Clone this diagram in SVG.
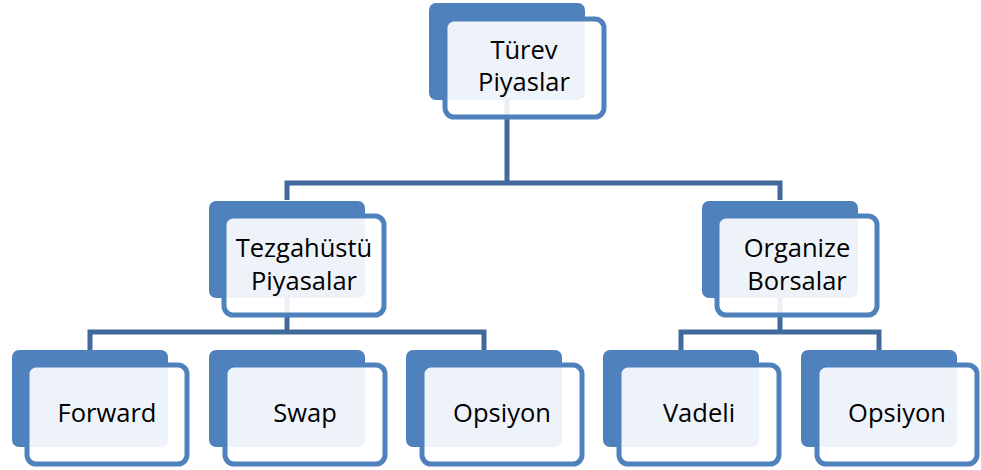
<svg xmlns="http://www.w3.org/2000/svg" width="981" height="470" viewBox="0 0 981 470">
<style>
.back{fill:#4F81BD}
.front{fill:#FFFFFF;fill-opacity:0.9;stroke:#4F81BD;stroke-width:5}
.conn{fill:none;stroke:#40699C;stroke-width:5;stroke-linejoin:miter}
text{font-family:"Open Sans","Liberation Sans",sans-serif;font-size:25.5px;fill:#000;text-anchor:middle}
</style>
<rect width="981" height="470" fill="#FFFFFF"/>
<g id="connectors">
<path class="conn" d="M507,100 V183"/>
<path class="conn" d="M287,200 V183 H780 V200"/>
<path class="conn" d="M287,297 V332"/>
<path class="conn" d="M90,350 V332 H484 V350"/>
<path class="conn" d="M780,298 V332"/>
<path class="conn" d="M681,350 V332 H879 V350"/>
</g>
<g id="n-turev">
<rect class="back" x="429" y="3" width="156" height="97" rx="7"/>
<rect class="front" x="445" y="19" width="159" height="98" rx="9"/>
<text x="524" y="59">Türev</text>
<text x="524" y="91">Piyaslar</text>
</g>
<g id="n-tezgah">
<rect class="back" x="209" y="201" width="156" height="97" rx="7"/>
<rect class="front" x="224" y="216" width="160" height="99" rx="9"/>
<text x="304" y="257">Tezgahüstü</text>
<text x="304" y="290">Piyasalar</text>
</g>
<g id="n-organize">
<rect class="back" x="702" y="201" width="156" height="97" rx="7"/>
<rect class="front" x="717" y="216" width="160" height="99" rx="9"/>
<text x="797" y="257">Organize</text>
<text x="797" y="290">Borsalar</text>
</g>
<g id="n-forward">
<rect class="back" x="12" y="350" width="156" height="97" rx="7"/>
<rect class="front" x="27" y="365" width="160" height="99" rx="9"/>
<text x="107" y="422">Forward</text>
</g>
<g id="n-swap">
<rect class="back" x="209" y="350" width="156" height="97" rx="7"/>
<rect class="front" x="225" y="365" width="160" height="99" rx="9"/>
<text x="305" y="422">Swap</text>
</g>
<g id="n-opsiyon1">
<rect class="back" x="406" y="350" width="156" height="97" rx="7"/>
<rect class="front" x="422" y="365" width="160" height="99" rx="9"/>
<text x="502" y="422">Opsiyon</text>
</g>
<g id="n-vadeli">
<rect class="back" x="603" y="350" width="156" height="97" rx="7"/>
<rect class="front" x="619" y="365" width="160" height="99" rx="9"/>
<text x="699" y="422">Vadeli</text>
</g>
<g id="n-opsiyon2">
<rect class="back" x="801" y="350" width="156" height="97" rx="7"/>
<rect class="front" x="817" y="365" width="160" height="99" rx="9"/>
<text x="897" y="422">Opsiyon</text>
</g>
</svg>
